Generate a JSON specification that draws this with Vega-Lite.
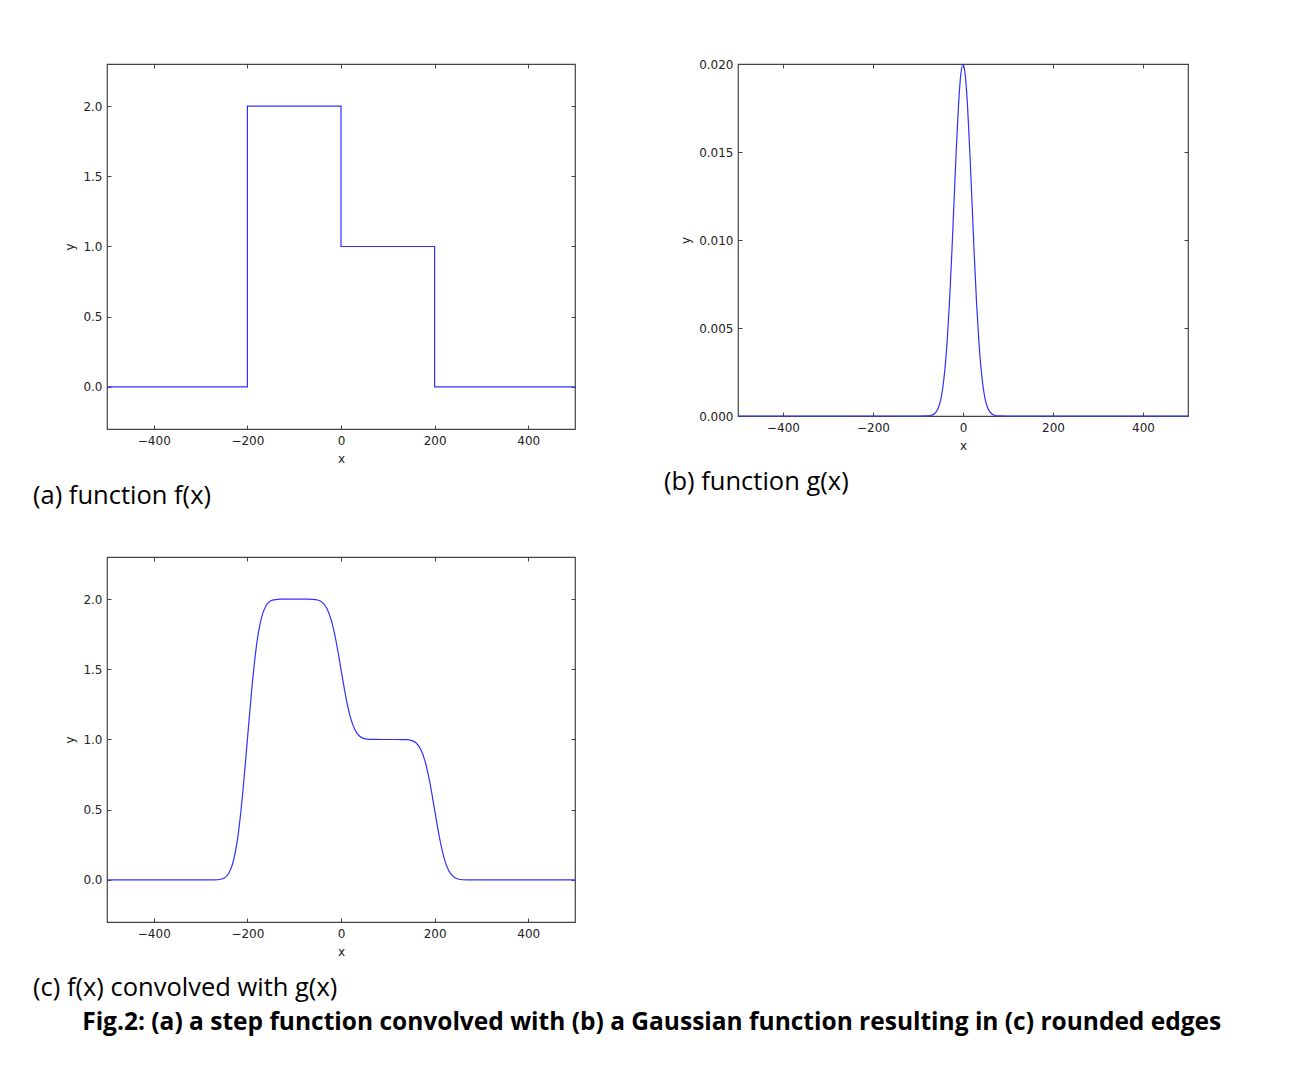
{
  "$schema": "https://vega.github.io/schema/vega-lite/v6.json",
  "padding": {"left": 32, "top": 57, "right": 5, "bottom": 5},
  "background": "white",
  "datasets": {
    "f": [
      {"i": 0, "x": -500, "y": 0},
      {"i": 1, "x": -200, "y": 0},
      {"i": 2, "x": -200, "y": 2},
      {"i": 3, "x": 0, "y": 2},
      {"i": 4, "x": 0, "y": 1},
      {"i": 5, "x": 200, "y": 1},
      {"i": 6, "x": 200, "y": 0},
      {"i": 7, "x": 500, "y": 0}
    ],
    "g": [
      {"x": -500, "y": 0},
      {"x": -100, "y": 0},
      {"x": -80, "y": 0.0000067},
      {"x": -70, "y": 0.0000438},
      {"x": -60, "y": 0.000222},
      {"x": -55, "y": 0.000456},
      {"x": -50, "y": 0.000879},
      {"x": -45, "y": 0.00159},
      {"x": -40, "y": 0.00271},
      {"x": -35, "y": 0.00433},
      {"x": -30, "y": 0.00649},
      {"x": -25, "y": 0.00916},
      {"x": -20, "y": 0.01213},
      {"x": -15, "y": 0.0151},
      {"x": -10, "y": 0.01765},
      {"x": -5, "y": 0.01938},
      {"x": 0, "y": 0.02},
      {"x": 5, "y": 0.01938},
      {"x": 10, "y": 0.01765},
      {"x": 15, "y": 0.0151},
      {"x": 20, "y": 0.01213},
      {"x": 25, "y": 0.00916},
      {"x": 30, "y": 0.00649},
      {"x": 35, "y": 0.00433},
      {"x": 40, "y": 0.00271},
      {"x": 45, "y": 0.00159},
      {"x": 50, "y": 0.000879},
      {"x": 55, "y": 0.000456},
      {"x": 60, "y": 0.000222},
      {"x": 70, "y": 0.0000438},
      {"x": 80, "y": 0.0000067},
      {"x": 100, "y": 0},
      {"x": 500, "y": 0}
    ],
    "c": [
      {"x": -500, "y": 0},
      {"x": -300, "y": 0},
      {"x": -280, "y": 0.00006},
      {"x": -270, "y": 0.0005},
      {"x": -260, "y": 0.0027},
      {"x": -250, "y": 0.0124},
      {"x": -240, "y": 0.0455},
      {"x": -230, "y": 0.134},
      {"x": -220, "y": 0.317},
      {"x": -210, "y": 0.617},
      {"x": -200, "y": 1.0},
      {"x": -190, "y": 1.383},
      {"x": -180, "y": 1.683},
      {"x": -170, "y": 1.866},
      {"x": -160, "y": 1.954},
      {"x": -150, "y": 1.988},
      {"x": -140, "y": 1.997},
      {"x": -130, "y": 1.9995},
      {"x": -100, "y": 2.0},
      {"x": -70, "y": 1.9995},
      {"x": -60, "y": 1.9987},
      {"x": -50, "y": 1.994},
      {"x": -40, "y": 1.977},
      {"x": -30, "y": 1.933},
      {"x": -20, "y": 1.841},
      {"x": -10, "y": 1.691},
      {"x": 0, "y": 1.5},
      {"x": 10, "y": 1.309},
      {"x": 20, "y": 1.159},
      {"x": 30, "y": 1.067},
      {"x": 40, "y": 1.023},
      {"x": 50, "y": 1.006},
      {"x": 60, "y": 1.001},
      {"x": 70, "y": 1.0002},
      {"x": 100, "y": 1.0},
      {"x": 130, "y": 0.9998},
      {"x": 140, "y": 0.9987},
      {"x": 150, "y": 0.994},
      {"x": 160, "y": 0.977},
      {"x": 170, "y": 0.933},
      {"x": 180, "y": 0.841},
      {"x": 190, "y": 0.691},
      {"x": 200, "y": 0.5},
      {"x": 210, "y": 0.309},
      {"x": 220, "y": 0.159},
      {"x": 230, "y": 0.067},
      {"x": 240, "y": 0.023},
      {"x": 250, "y": 0.006},
      {"x": 260, "y": 0.001},
      {"x": 270, "y": 0.0002},
      {"x": 300, "y": 0},
      {"x": 500, "y": 0}
    ]
  },
  "title": {
    "text": "Fig.2: (a) a step function convolved with (b) a Gaussian function resulting in (c) rounded edges",
    "orient": "bottom",
    "anchor": "middle",
    "font": "Open Sans",
    "fontSize": 24.5,
    "fontWeight": "bold",
    "color": "#000",
    "offset": 9,
    "dx": 40
  },
  "columns": 2,
  "bounds": "flush",
  "spacing": {"row": 128, "column": 163},
  "concat": [
    {
      "width": 468,
      "height": 365,
      "data": {"name": "f"},
      "title": {"text": "(a) function f(x)", "orient": "bottom", "anchor": "start", "frame": "group", "dx": -74, "offset": 20, "font": "Open Sans", "fontSize": 25.5, "fontWeight": "normal", "color": "#000"},
      "layer": [
        {
          "mark": {"type": "line", "color": "#3030ff", "strokeWidth": 1.2, "interpolate": "linear"},
          "encoding": {
            "x": {"field": "x", "type": "quantitative", "scale": {"domain": [-500, 500], "nice": false, "zero": false},
                  "axis": {"orient": "bottom", "values": [-400, -200, 0, 200, 400], "title": "x"}},
            "y": {"field": "y", "type": "quantitative", "scale": {"domain": [-0.3, 2.3], "nice": false, "zero": false},
                  "axis": {"orient": "left", "values": [0, 0.5, 1, 1.5, 2], "format": ".1f", "title": "y"}},
            "order": {"field": "i", "type": "quantitative"}
          }
        },
        {
          "mark": {"type": "line", "opacity": 0},
          "encoding": {
            "x": {"field": "x", "type": "quantitative", "scale": {"domain": [-500, 500], "nice": false, "zero": false},
                  "axis": {"orient": "top", "values": [-400, -200, 0, 200, 400], "labels": false, "title": null}},
            "y": {"field": "y", "type": "quantitative", "scale": {"domain": [-0.3, 2.3], "nice": false, "zero": false},
                  "axis": {"orient": "right", "values": [0, 0.5, 1, 1.5, 2], "labels": false, "title": null}},
            "order": {"field": "i", "type": "quantitative"}
          }
        }
      ],
      "resolve": {"scale": {"x": "independent", "y": "independent"}, "axis": {"x": "independent", "y": "independent"}}
    },
    {
      "width": 450,
      "height": 352,
      "data": {"name": "g"},
      "title": {"text": "(b) function g(x)", "orient": "bottom", "anchor": "start", "frame": "group", "dx": -74, "offset": 19, "font": "Open Sans", "fontSize": 25.5, "fontWeight": "normal", "color": "#000"},
      "layer": [
        {
          "mark": {"type": "line", "color": "#3030ff", "strokeWidth": 1.2, "interpolate": "monotone"},
          "encoding": {
            "x": {"field": "x", "type": "quantitative", "scale": {"domain": [-500, 500], "nice": false, "zero": false},
                  "axis": {"orient": "bottom", "values": [-400, -200, 0, 200, 400], "title": "x"}},
            "y": {"field": "y", "type": "quantitative", "scale": {"domain": [0, 0.02], "nice": false, "zero": false},
                  "axis": {"orient": "left", "values": [0, 0.005, 0.01, 0.015, 0.02], "format": ".3f", "title": "y"}}
          }
        },
        {
          "mark": {"type": "line", "opacity": 0},
          "encoding": {
            "x": {"field": "x", "type": "quantitative", "scale": {"domain": [-500, 500], "nice": false, "zero": false},
                  "axis": {"orient": "top", "values": [-400, -200, 0, 200, 400], "labels": false, "title": null}},
            "y": {"field": "y", "type": "quantitative", "scale": {"domain": [0, 0.02], "nice": false, "zero": false},
                  "axis": {"orient": "right", "values": [0, 0.005, 0.01, 0.015, 0.02], "labels": false, "title": null}}
          }
        }
      ],
      "resolve": {"scale": {"x": "independent", "y": "independent"}, "axis": {"x": "independent", "y": "independent"}}
    },
    {
      "width": 468,
      "height": 365,
      "data": {"name": "c"},
      "title": {"text": "(c) f(x) convolved with g(x)", "orient": "bottom", "anchor": "start", "frame": "group", "dx": -74, "offset": 19, "font": "Open Sans", "fontSize": 25.5, "fontWeight": "normal", "color": "#000"},
      "layer": [
        {
          "mark": {"type": "line", "color": "#3030ff", "strokeWidth": 1.2, "interpolate": "monotone"},
          "encoding": {
            "x": {"field": "x", "type": "quantitative", "scale": {"domain": [-500, 500], "nice": false, "zero": false},
                  "axis": {"orient": "bottom", "values": [-400, -200, 0, 200, 400], "title": "x"}},
            "y": {"field": "y", "type": "quantitative", "scale": {"domain": [-0.3, 2.3], "nice": false, "zero": false},
                  "axis": {"orient": "left", "values": [0, 0.5, 1, 1.5, 2], "format": ".1f", "title": "y"}}
          }
        },
        {
          "mark": {"type": "line", "opacity": 0},
          "encoding": {
            "x": {"field": "x", "type": "quantitative", "scale": {"domain": [-500, 500], "nice": false, "zero": false},
                  "axis": {"orient": "top", "values": [-400, -200, 0, 200, 400], "labels": false, "title": null}},
            "y": {"field": "y", "type": "quantitative", "scale": {"domain": [-0.3, 2.3], "nice": false, "zero": false},
                  "axis": {"orient": "right", "values": [0, 0.5, 1, 1.5, 2], "labels": false, "title": null}}
          }
        }
      ],
      "resolve": {"scale": {"x": "independent", "y": "independent"}, "axis": {"x": "independent", "y": "independent"}}
    }
  ],
  "config": {
    "view": {"stroke": "#444", "strokeWidth": 1.2},
    "axis": {
      "domain": false,
      "grid": false,
      "ticks": true,
      "tickSize": -4,
      "tickColor": "#444",
      "tickWidth": 1,
      "labelFont": "DejaVu Sans",
      "labelFontSize": 12,
      "labelColor": "#222",
      "labelPadding": 9,
      "titleFont": "DejaVu Sans",
      "titleFontSize": 12,
      "titleFontWeight": "normal",
      "titleColor": "#222",
      "titlePadding": 6
    },
    "axisX": {"labelPadding": 10, "titlePadding": 7}
  }
}
